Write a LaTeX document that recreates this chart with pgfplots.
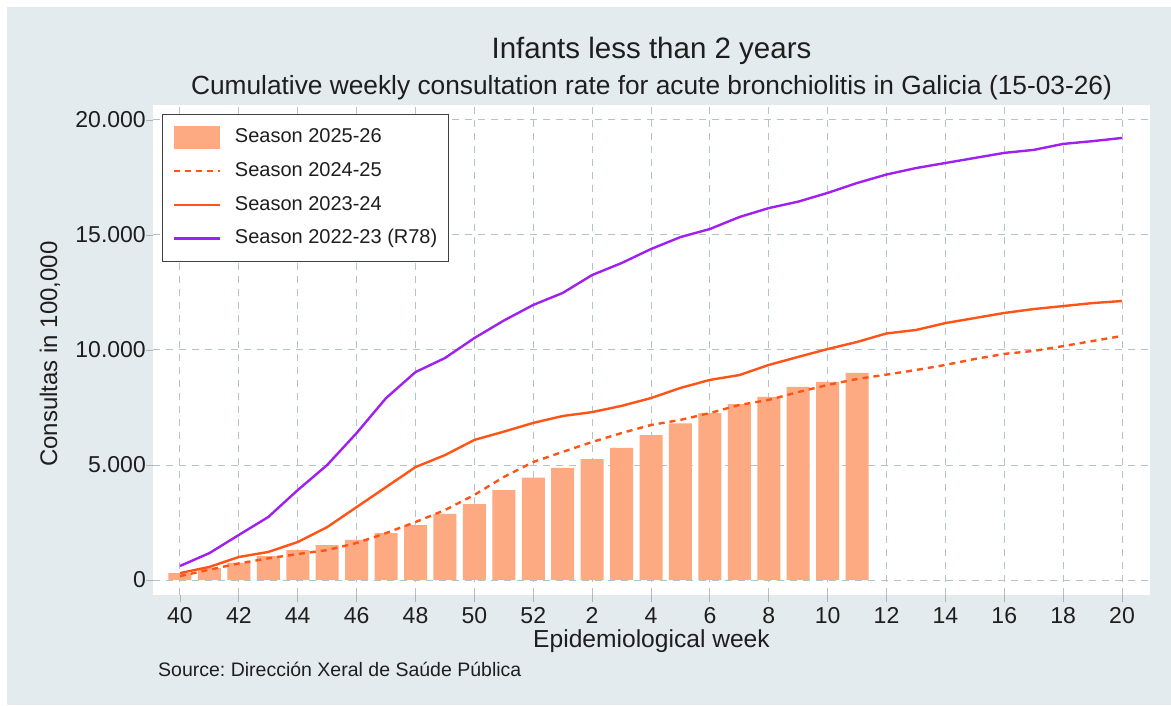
\documentclass[border=0pt]{standalone}
\usepackage{fontspec}
\setmainfont{Liberation Sans}
\usepackage{pgfplots}
\pgfplotsset{compat=1.18}
\usepackage{pgfplotstable}
\definecolor{bgc}{RGB}{228,235,238}
\definecolor{gridc}{RGB}{178,196,200}
\definecolor{barc}{RGB}{253,170,130}
\definecolor{orc}{RGB}{255,84,22}
\definecolor{purc}{RGB}{160,32,240}
\definecolor{txt}{RGB}{30,30,30}
\frenchspacing

\pgfplotstableread{
i v
0 300
1 520
2 740
3 1040
4 1300
5 1520
6 1740
7 2040
8 2390
9 2870
10 3300
11 3910
12 4450
13 4880
14 5260
15 5740
16 6300
17 6810
18 7260
19 7650
20 7960
21 8400
22 8610
23 9000
}\sA

\pgfplotstableread{
i v
0 170
1 450
2 720
3 940
4 1130
5 1300
6 1610
7 2040
8 2520
9 3040
10 3700
11 4480
12 5130
13 5570
14 6000
15 6390
16 6740
17 6960
18 7260
19 7610
20 7830
21 8170
22 8480
23 8740
24 8930
25 9130
26 9350
27 9610
28 9830
29 9960
30 10170
31 10390
32 10610
}\sB

\pgfplotstableread{
i v
0 300
1 570
2 1000
3 1220
4 1650
5 2300
6 3170
7 4040
8 4910
9 5430
10 6090
11 6450
12 6830
13 7130
14 7300
15 7570
16 7910
17 8350
18 8700
19 8910
20 9350
21 9700
22 10040
23 10350
24 10720
25 10870
26 11170
27 11390
28 11610
29 11780
30 11910
31 12040
32 12130
}\sC

\pgfplotstableread{
i v
0 610
1 1170
2 1960
3 2740
4 3910
5 5000
6 6390
7 7910
8 9040
9 9650
10 10520
11 11280
12 11960
13 12480
14 13260
15 13780
16 14390
17 14910
18 15260
19 15780
20 16170
21 16450
22 16830
23 17260
24 17630
25 17910
26 18130
27 18350
28 18570
29 18700
30 18960
31 19080
32 19220
}\sD

\begin{document}
\begin{tikzpicture}
\path[use as bounding box, fill=white] (0,0) rectangle (1171pt,705pt);
\fill[bgc] (7pt,0pt) rectangle (1171pt,698pt);
\begin{axis}[
  at={(153pt,110pt)}, anchor=south west,
  scale only axis, width=997pt, height=490pt,
  xmin=-0.917, xmax=32.95, ymin=-652, ymax=20652,
  scaled y ticks=false,
  axis background/.style={fill=white},
  axis line style={draw=none},
  tick pos=left, tick align=outside,
  major tick length=7pt,
  tick style={draw=gray!60, line width=0.8pt},
  xtick={0,2,...,32},
  xticklabels={40,42,44,46,48,50,52,2,4,6,8,10,12,14,16,18,20},
  ytick={0,5000,10000,15000,20000},
  yticklabels={0,5.000,10.000,15.000,20.000},
  xticklabel style={font=\fontsize{23}{27}\selectfont, text=txt, inner sep=0pt, anchor=north},
  xticklabel shift=5pt,
  yticklabel style={font=\fontsize{23}{27}\selectfont, text=txt, inner sep=0pt, anchor=east},
  yticklabel shift=0pt,
  grid=major,
  major grid style={draw=gridc, line width=1pt, dash pattern=on 7pt off 6pt},
  legend style={at={(axis description cs:0.009,0.9816)}, anchor=north west,
    draw=black!75, line width=1.2pt, fill=white,
    font=\fontsize{20}{24}\selectfont, text=txt,
    inner xsep=10pt, inner ysep=13.5pt, row sep=15.2pt,
    nodes={inner sep=0pt, text height=14.5pt, text depth=4pt}},
  legend cell align=left,
  legend image code/.code={\draw[#1] (0pt,0pt) -- (46pt,0pt);},
  legend style={column sep=14pt},
]
\addplot[ybar, bar width=23pt, fill=barc, draw=none,
  legend image code/.code={\fill[barc, overlay] (0pt,-11.5pt) rectangle (46pt,11.5pt); \path (0pt,0pt) -- (46pt,0pt);}]
  table[x=i, y=v] {\sA};
\addlegendentry{Season 2025-26}
\addplot[orc, line width=2.4pt, dash pattern=on 6pt off 5pt] table[x=i, y=v] {\sB};
\addlegendentry{Season 2024-25}
\addplot[orc, line width=2.4pt] table[x=i, y=v] {\sC};
\addlegendentry{Season 2023-24}
\addplot[purc, line width=2.4pt] table[x=i, y=v] {\sD};
\addlegendentry{Season 2022-23 (R78)\hspace*{1pt}}
\end{axis}
\node[anchor=base, text=txt, font=\fontsize{29.5}{34}\selectfont] at (651.5pt,646pt) {Infants less than 2 years};
\node[anchor=base, text=txt, font=\fontsize{26.3}{30}\selectfont] at (651.5pt,610pt) {Cumulative weekly consultation rate for acute bronchiolitis in Galicia (15-03-26)};
\node[anchor=base, text=txt, font=\fontsize{24.6}{28}\selectfont] at (651.5pt,58pt) {Epidemiological week};
\node[anchor=base, rotate=90, text=txt, font=\fontsize{24}{28}\selectfont] at (57pt,351pt) {Consultas in 100,000};
\node[anchor=base west, inner sep=0pt, text=txt, font=\fontsize{19.5}{23}\selectfont] at (158pt,29pt) {Source: Dirección Xeral de Saúde Pública};
\end{tikzpicture}
\end{document}
